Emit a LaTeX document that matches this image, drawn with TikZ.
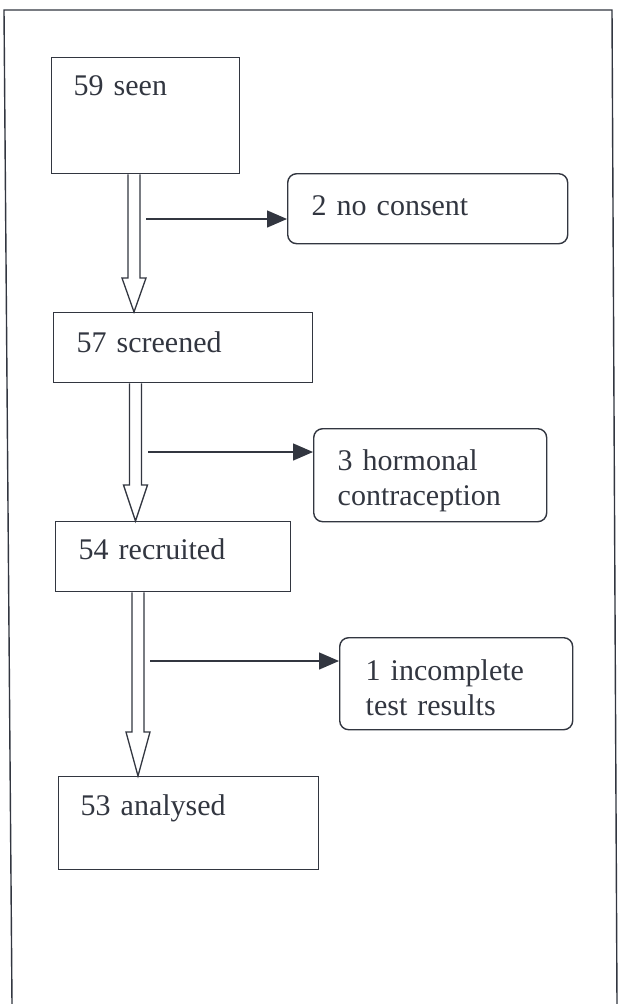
\documentclass[tikz,border=0pt]{standalone}
\usepackage{fontspec}
\setmainfont{Liberation Serif}
\usetikzlibrary{arrows.meta,calc}
\definecolor{ink}{RGB}{50,54,64}
\newcommand\fatarrow[4]{%
  \draw[fat] let \p1=(#1.south), \p2=(#2.north) in
    ({#3-6},\y1) -- ({#3-6},{\y2+#4}) -- ({#3-12},{\y2+#4}) -- (#3,\y2)
    -- ({#3+12},{\y2+#4}) -- ({#3+6},{\y2+#4}) -- ({#3+6},\y1);}
\begin{document}
\begin{tikzpicture}[x=1pt,y=-1pt,
  every node/.style={text=ink,font=\fontsize{30}{35}\selectfont},
  box/.style={draw=ink,line width=1.4pt,anchor=north west,align=left,inner ysep=0pt},
  rbox/.style={box,rounded corners=9pt},
  fat/.style={draw=ink,line width=1.3pt,fill=white,line join=miter},
  side/.style={draw=ink,line width=1.4pt,-{Triangle[length=20pt,width=17pt]}}]
\useasboundingbox[fill=white] (0,0) rectangle (625,1004);
% frame
\draw[ink,line width=1.4pt] (12,1004) -- (4,10) -- (612,10) -- (617,1004);
% main boxes
\node[box,inner xsep=22pt,text width=144pt,text height=38pt,text depth=78pt] (A) at (51,57) {59 seen};
\node[box,inner xsep=23pt,text width=213pt,text height=40pt,text depth=30pt] (B) at (53,312) {57 screened};
\node[box,inner xsep=23pt,text width=189pt,text height=38pt,text depth=32pt] (C) at (55,521) {54 recruited};
\node[box,inner xsep=22pt,text width=216pt,text height=39pt,text depth=54pt] (D) at (58,776) {53 analysed};
% exclusion boxes
\node[rbox,inner xsep=24pt,text width=232pt,text height=42pt,text depth=28pt] (R1) at (287,173) {2 no consent};
\node[rbox,inner xsep=24pt,text width=185pt,text height=42pt,text depth=51pt] (R2) at (313,428) {3 hormonal\\contraception};
\node[rbox,inner xsep=26pt,text width=181pt,text height=43pt,text depth=49pt] (R3) at (339,637) {1 incomplete\\test results};
% hollow arrows
\fatarrow{A}{B}{134}{34pt}
\fatarrow{B}{C}{135.5}{36pt}
\fatarrow{C}{D}{138}{44pt}
% side arrows
\coordinate (s1) at (146,219);
\coordinate (s2) at (148,452);
\coordinate (s3) at (150,661);
\draw[side] (s1) -- (s1 -| R1.west);
\draw[side] (s2) -- (s2 -| R2.west);
\draw[side] (s3) -- (s3 -| R3.west);
\end{tikzpicture}
\end{document}
